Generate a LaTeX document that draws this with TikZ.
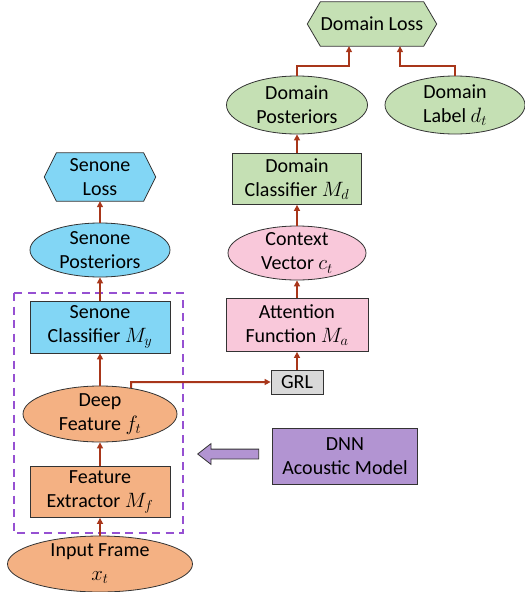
\documentclass[tikz,border=0pt]{standalone}
\usepackage{fontspec}
\setmainfont{Carlito}
\usetikzlibrary{shapes.geometric,shapes.arrows,arrows.meta}
\definecolor{corange}{HTML}{F4B183}
\definecolor{cblue}{HTML}{82D6F5}
\definecolor{cgreen}{HTML}{C5E0B4}
\definecolor{cpink}{HTML}{F9C8DA}
\definecolor{cpurple}{HTML}{B294D2}
\definecolor{cgray}{HTML}{D9D9D9}
\definecolor{carrow}{HTML}{A8361A}
\definecolor{cdash}{HTML}{9650D2}
\begin{document}
\begin{tikzpicture}[x=1pt,y=-1pt,
  txt/.style={align=center,font=\fontsize{20}{24}\selectfont,inner sep=0pt},
  boxn/.style={draw=black!80,line width=0.8pt,inner sep=0pt,align=center,font=\fontsize{20}{24}\selectfont},
  elln/.style={ellipse,draw=black!80,line width=0.8pt,inner sep=0pt},
  hexn/.style={inner sep=0pt},
  arr/.style={draw=carrow,line width=2pt,-{Triangle[length=6pt,width=6pt]}},
  con/.style={draw=carrow,line width=2pt}
]
\useasboundingbox (0,0) rectangle (525,592);

% dashed model box
\draw[cdash,line width=2.4pt,dash pattern=on 8pt off 5.5pt] (14,293) rectangle (183,533);

% left column
\node[elln,fill=corange,minimum width=185,minimum height=56,label={[txt]center:{Input Frame\\$x_t$}}] (inp) at (100,564) {};
\node[boxn,fill=corange,minimum width=140,minimum height=51] (fe) at (100,492) {Feature\\Extractor $M_f$};
\node[elln,fill=corange,minimum width=154,minimum height=56,label={[txt]center:{Deep\\Feature $f_t$}}] (deep) at (100,414) {};
\node[boxn,fill=cblue,minimum width=140,minimum height=52] (sc) at (100,327) {Senone\\Classifier $M_y$};
\node[elln,fill=cblue,minimum width=140,minimum height=54,label={[txt]center:{Senone\\Posteriors}}] (sp) at (100,250) {};
\node[hexn,minimum width=111,minimum height=48] (sl) at (100,177) {};
\draw[fill=cblue,draw=black!80,line width=0.8pt] (sl.west) -- ([xshift=12pt]sl.north west) -- ([xshift=-12pt]sl.north east) -- (sl.east) -- ([xshift=-12pt]sl.south east) -- ([xshift=12pt]sl.south west) -- cycle;
\node[txt] at (sl.center) {Senone\\Loss};

% right column
\node[boxn,fill=cgray,minimum width=52,minimum height=24] (grl) at (297,382) {GRL};
\node[boxn,fill=cpink,minimum width=142,minimum height=53] (att) at (297,325) {Attention\\Function $M_a$};
\node[elln,fill=cpink,minimum width=138,minimum height=54,label={[txt]center:{Context\\Vector $c_t$}}] (cv) at (297,253) {};
\node[boxn,fill=cgreen,minimum width=129,minimum height=51] (dc) at (297,179) {Domain\\Classifier $M_d$};
\node[elln,fill=cgreen,minimum width=141,minimum height=58,label={[txt]center:{Domain\\Posteriors}}] (dp) at (297,105) {};
\node[elln,fill=cgreen,minimum width=140,minimum height=58,label={[txt]center:{Domain\\Label $d_t$}}] (dlab) at (455,105) {};
\node[hexn,minimum width=129,minimum height=44] (dloss) at (372,24) {};
\draw[fill=cgreen,draw=black!80,line width=0.8pt] (dloss.west) -- ([xshift=13pt]dloss.north west) -- ([xshift=-13pt]dloss.north east) -- (dloss.east) -- ([xshift=-13pt]dloss.south east) -- ([xshift=13pt]dloss.south west) -- cycle;
\node[txt] at (dloss.center) {Domain Loss};

% DNN box and big arrow
\node[boxn,fill=cpurple,minimum width=145,minimum height=56] (dnn) at (345,456) {DNN\\Acoustic Model};
\node[single arrow,draw=black!80,line width=0.8pt,fill=cpurple,inner sep=0pt,minimum height=61,minimum width=20,single arrow head extend=5.5pt,single arrow tip angle=76,shape border rotate=180,anchor=tail] (big) at ([xshift=-13pt,yshift=2pt]dnn.west) {\rule{0pt}{9pt}};

% connectors
\draw[arr] (inp.north) -- (fe.south);
\draw[arr] (fe.south |- fe.north) -- (deep.south);
\draw[arr] (deep.north) -- (sc.south);
\draw[arr] (sc.north) -- (sp.south);
\draw[arr] (sp.north) -- (sl.south);
\coordinate (gj) at (131,382);
\draw[arr] (deep.40) -- (gj) -- (grl.west);
\draw[arr] (grl.north) -- (att.south);
\draw[arr] (att.north) -- (cv.south);
\draw[arr] (cv.north) -- (dc.south);
\draw[arr] (dc.north) -- (dp.south);
\coordinate (j1) at (349,66);
\coordinate (j2) at (400,66);
\draw[arr] (dp.north) |- (j1) -- (j1 |- dloss.south);
\draw[arr] (dlab.north) |- (j2) -- (j2 |- dloss.south);
\end{tikzpicture}
\end{document}
